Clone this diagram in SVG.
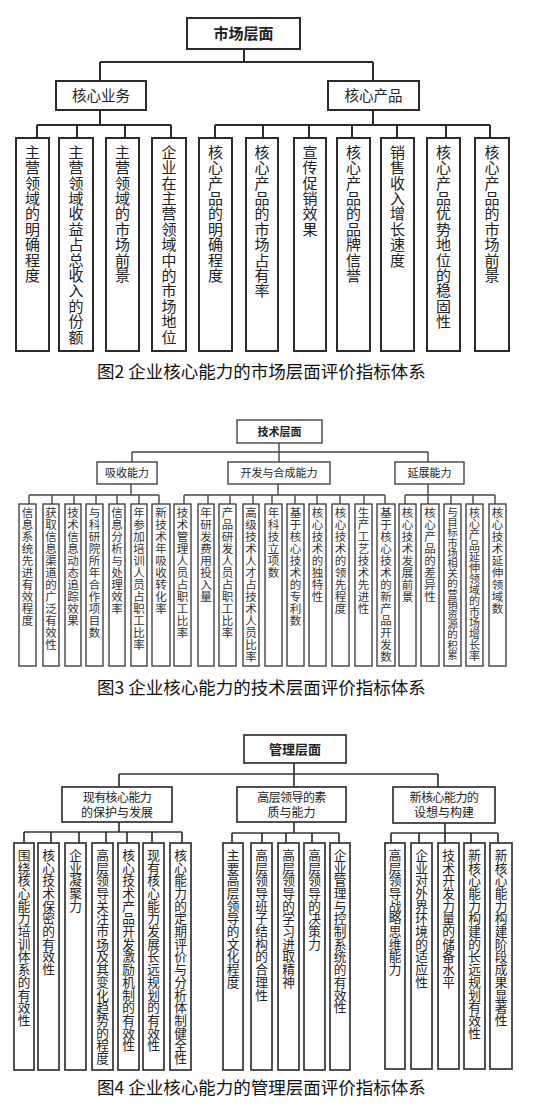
<svg xmlns="http://www.w3.org/2000/svg" width="537" height="1116" viewBox="0 0 537 1116">
<style>
text{font-family:"Noto Sans CJK SC","Noto Sans",sans-serif;fill:#222}
.b2{fill:#fff;stroke:#2a2a2a;stroke-width:2}
.b3{fill:#fff;stroke:#444;stroke-width:1.4}
.b4{fill:#fff;stroke:#333;stroke-width:1.7}
.c2{stroke:#2a2a2a;stroke-width:2;fill:none}
.c3{stroke:#444;stroke-width:1.4;fill:none}
.c4{stroke:#333;stroke-width:1.7;fill:none}
.h{text-anchor:middle}
.bold{font-weight:bold}
.v2{font-size:15px;text-anchor:middle}
.v3{font-size:11.5px;text-anchor:middle;fill:#333}
.v4{font-size:12.7px;text-anchor:middle}
.cap{font-size:17.5px;fill:#111}
</style>
<rect width="537" height="1116" fill="#fff"/>

<!-- ============ Figure 2 ============ -->
<g id="connectors-fig2">
<path class="c2" d="M244 49V62M100 62H373M100 62V81M373 62V81"/>
<path class="c2" d="M100 110V125M37 125H171M37 125V138M77 125V138M125 125V138M171 125V138"/>
<path class="c2" d="M373 110V125M215 125H490M215 125V138M263 125V138M309 125V138M352 125V138M397 125V138M446 125V138M490 125V138"/>
</g>
<g id="f2-root"><rect class="b2" x="187" y="18" width="113" height="31"/><text class="h bold" x="243.5" y="39" font-size="15">市场层面</text></g>
<g id="f2-core-business"><rect class="b2" x="56" y="81" width="90" height="29"/><text class="h" x="101" y="100.5" font-size="14.5">核心业务</text></g>
<g id="f2-core-product"><rect class="b2" x="328" y="81" width="91" height="29"/><text class="h" x="373.5" y="100.5" font-size="14.5">核心产品</text></g>
<g id="f2-l1"><rect class="b2" x="16" y="138" width="33" height="213"/><text class="v2" transform="translate(32.5 0)" x="0 0 0 0 0 0 0 0 0 0 0 0 0 0 0 0 0 0" y="157.7 173.1 188.5 203.9 219.3 234.7 250.1 265.5 280.9 296.3 311.7 327.1 342.5">主营领域的明确程度</text></g>
<g id="f2-l2"><rect class="b2" x="59" y="138" width="34" height="213"/><text class="v2" transform="translate(76 0)" x="0 0 0 0 0 0 0 0 0 0 0 0 0 0 0 0 0 0" y="157.7 173.1 188.5 203.9 219.3 234.7 250.1 265.5 280.9 296.3 311.7 327.1 342.5">主营领域收益占总收入的份额</text></g>
<g id="f2-l3"><rect class="b2" x="106" y="138" width="33" height="213"/><text class="v2" transform="translate(122.5 0)" x="0 0 0 0 0 0 0 0 0 0 0 0 0 0 0 0 0 0" y="157.7 173.1 188.5 203.9 219.3 234.7 250.1 265.5 280.9 296.3 311.7 327.1 342.5">主营领域的市场前景</text></g>
<g id="f2-l4"><rect class="b2" x="152" y="138" width="34" height="213"/><text class="v2" transform="translate(169 0)" x="0 0 0 0 0 0 0 0 0 0 0 0 0 0 0 0 0 0" y="157.7 173.1 188.5 203.9 219.3 234.7 250.1 265.5 280.9 296.3 311.7 327.1 342.5">企业在主营领域中的市场地位</text></g>
<g id="f2-l5"><rect class="b2" x="199" y="138" width="33" height="213"/><text class="v2" transform="translate(215.5 0)" x="0 0 0 0 0 0 0 0 0 0 0 0 0 0 0 0 0 0" y="157.7 173.1 188.5 203.9 219.3 234.7 250.1 265.5 280.9 296.3 311.7 327.1 342.5">核心产品的明确程度</text></g>
<g id="f2-l6"><rect class="b2" x="246" y="138" width="32" height="213"/><text class="v2" transform="translate(262 0)" x="0 0 0 0 0 0 0 0 0 0 0 0 0 0 0 0 0 0" y="157.7 173.1 188.5 203.9 219.3 234.7 250.1 265.5 280.9 296.3 311.7 327.1 342.5">核心产品的市场占有率</text></g>
<g id="f2-l7"><rect class="b2" x="294" y="138" width="32" height="213"/><text class="v2" transform="translate(310 0)" x="0 0 0 0 0 0 0 0 0 0 0 0 0 0 0 0 0 0" y="157.7 173.1 188.5 203.9 219.3 234.7 250.1 265.5 280.9 296.3 311.7 327.1 342.5">宣传促销效果</text></g>
<g id="f2-l8"><rect class="b2" x="337" y="138" width="33" height="213"/><text class="v2" transform="translate(353.5 0)" x="0 0 0 0 0 0 0 0 0 0 0 0 0 0 0 0 0 0" y="157.7 173.1 188.5 203.9 219.3 234.7 250.1 265.5 280.9 296.3 311.7 327.1 342.5">核心产品的品牌信誉</text></g>
<g id="f2-l9"><rect class="b2" x="381" y="138" width="33" height="213"/><text class="v2" transform="translate(397.5 0)" x="0 0 0 0 0 0 0 0 0 0 0 0 0 0 0 0 0 0" y="157.7 173.1 188.5 203.9 219.3 234.7 250.1 265.5 280.9 296.3 311.7 327.1 342.5">销售收入增长速度</text></g>
<g id="f2-l10"><rect class="b2" x="427" y="138" width="33" height="213"/><text class="v2" transform="translate(443.5 0)" x="0 0 0 0 0 0 0 0 0 0 0 0 0 0 0 0 0 0" y="157.7 173.1 188.5 203.9 219.3 234.7 250.1 265.5 280.9 296.3 311.7 327.1 342.5">核心产品优势地位的稳固性</text></g>
<g id="f2-l11"><rect class="b2" x="475" y="138" width="34" height="213"/><text class="v2" transform="translate(492 0)" x="0 0 0 0 0 0 0 0 0 0 0 0 0 0 0 0 0 0" y="157.7 173.1 188.5 203.9 219.3 234.7 250.1 265.5 280.9 296.3 311.7 327.1 342.5">核心产品的市场前景</text></g>
<text class="cap" x="97" y="378">图2 企业核心能力的市场层面评价指标体系</text>

<!-- ============ Figure 3 ============ -->
<g id="connectors-fig3">
<path class="c3" d="M279 443V452M132 452H428M132 452V462M279 452V462M428 452V462"/>
<path class="c3" d="M131 484V495M29 495H159M29 495V504M52 495V504M74 495V504M96 495V504M117 495V504M139 495V504M159 495V504"/>
<path class="c3" d="M278 484V495M184 495H385M184 495V504M208 495V504M230 495V504M253 495V504M272 495V504M295 495V504M317 495V504M340 495V504M364 495V504M385 495V504"/>
<path class="c3" d="M428 484V495M405 495H495M405 495V504M428 495V504M451 495V504M473 495V504M495 495V504"/>
</g>
<g id="f3-root"><rect class="b3" x="237" y="420" width="85" height="23"/><text class="h bold" x="279.5" y="435.5" font-size="11">技术层面</text></g>
<g id="f3-absorb"><rect class="b3" x="97" y="462" width="60" height="22"/><text class="h" x="127" y="477" font-size="11">吸收能力</text></g>
<g id="f3-develop"><rect class="b3" x="228" y="462" width="102" height="22"/><text class="h" x="279" y="477" font-size="11">开发与合成能力</text></g>
<g id="f3-extend"><rect class="b3" x="395" y="462" width="69" height="22"/><text class="h" x="429.5" y="477" font-size="11">延展能力</text></g>
<g id="f3-l1"><rect class="b3" x="19" y="504" width="17" height="162"/><text class="v3" transform="translate(27.5 0)" x="0 0 0 0 0 0 0 0 0 0 0 0 0 0 0 0 0 0" y="517.4 529.4 541.4 553.4 565.4 577.4 589.4 601.4 613.4 625.4 637.4 649.4 661.4">信息系统先进有效程度</text></g>
<g id="f3-l2"><rect class="b3" x="43" y="504" width="16" height="162"/><text class="v3" transform="translate(51 0)" x="0 0 0 0 0 0 0 0 0 0 0 0 0 0 0 0 0 0" y="517.4 529.4 541.4 553.4 565.4 577.4 589.4 601.4 613.4 625.4 637.4 649.4 661.4">获取信息渠道的广泛有效性</text></g>
<g id="f3-l3"><rect class="b3" x="65" y="504" width="16" height="162"/><text class="v3" transform="translate(73 0)" x="0 0 0 0 0 0 0 0 0 0 0 0 0 0 0 0 0 0" y="517.4 529.4 541.4 553.4 565.4 577.4 589.4 601.4 613.4 625.4 637.4 649.4 661.4">技术信息动态追踪效果</text></g>
<g id="f3-l4"><rect class="b3" x="86" y="504" width="17" height="162"/><text class="v3" transform="translate(94.5 0)" x="0 0 0 0 0 0 0 0 0 0 0 0 0 0 0 0 0 0" y="517.4 529.4 541.4 553.4 565.4 577.4 589.4 601.4 613.4 625.4 637.4 649.4 661.4">与科研院所年合作项目数</text></g>
<g id="f3-l5"><rect class="b3" x="109" y="504" width="16" height="162"/><text class="v3" transform="translate(117 0)" x="0 0 0 0 0 0 0 0 0 0 0 0 0 0 0 0 0 0" y="517.4 529.4 541.4 553.4 565.4 577.4 589.4 601.4 613.4 625.4 637.4 649.4 661.4">信息分析与处理效率</text></g>
<g id="f3-l6"><rect class="b3" x="131" y="504" width="16" height="162"/><text class="v3" transform="translate(139 0)" x="0 0 0 0 0 0 0 0 0 0 0 0 0 0 0 0 0 0" y="517.4 529.4 541.4 553.4 565.4 577.4 589.4 601.4 613.4 625.4 637.4 649.4 661.4">年参加培训人员占职工比率</text></g>
<g id="f3-l7"><rect class="b3" x="152" y="504" width="18" height="162"/><text class="v3" transform="translate(161 0)" x="0 0 0 0 0 0 0 0 0 0 0 0 0 0 0 0 0 0" y="517.4 529.4 541.4 553.4 565.4 577.4 589.4 601.4 613.4 625.4 637.4 649.4 661.4">新技术年吸收转化率</text></g>
<g id="f3-l8"><rect class="b3" x="174" y="504" width="17" height="162"/><text class="v3" transform="translate(182.5 0)" x="0 0 0 0 0 0 0 0 0 0 0 0 0 0 0 0 0 0" y="517.4 529.4 541.4 553.4 565.4 577.4 589.4 601.4 613.4 625.4 637.4 649.4 661.4">技术管理人员占职工比率</text></g>
<g id="f3-l9"><rect class="b3" x="198" y="504" width="16" height="162"/><text class="v3" transform="translate(206 0)" x="0 0 0 0 0 0 0 0 0 0 0 0 0 0 0 0 0 0" y="517.4 529.4 541.4 553.4 565.4 577.4 589.4 601.4 613.4 625.4 637.4 649.4 661.4">年研发费用投入量</text></g>
<g id="f3-l10"><rect class="b3" x="219" y="504" width="17" height="162"/><text class="v3" transform="translate(227.5 0)" x="0 0 0 0 0 0 0 0 0 0 0 0 0 0 0 0 0 0" y="517.4 529.4 541.4 553.4 565.4 577.4 589.4 601.4 613.4 625.4 637.4 649.4 661.4">产品研发人员占职工比率</text></g>
<g id="f3-l11"><rect class="b3" x="243" y="504" width="16" height="162"/><text class="v3" transform="translate(251 0)" x="0 0 0 0 0 0 0 0 0 0 0 0 0 0 0 0 0 0" y="517.4 529.4 541.4 553.4 565.4 577.4 589.4 601.4 613.4 625.4 637.4 649.4 661.4">高级技术人才占技术人员比率</text></g>
<g id="f3-l12"><rect class="b3" x="265" y="504" width="17" height="162"/><text class="v3" transform="translate(273.5 0)" x="0 0 0 0 0 0 0 0 0 0 0 0 0 0 0 0 0 0" y="517.4 529.4 541.4 553.4 565.4 577.4 589.4 601.4 613.4 625.4 637.4 649.4 661.4">年科技立项数</text></g>
<g id="f3-l13"><rect class="b3" x="287" y="504" width="17" height="162"/><text class="v3" transform="translate(295.5 0)" x="0 0 0 0 0 0 0 0 0 0 0 0 0 0 0 0 0 0" y="517.4 529.4 541.4 553.4 565.4 577.4 589.4 601.4 613.4 625.4 637.4 649.4 661.4">基于核心技术的专利数</text></g>
<g id="f3-l14"><rect class="b3" x="309" y="504" width="17" height="162"/><text class="v3" transform="translate(317.5 0)" x="0 0 0 0 0 0 0 0 0 0 0 0 0 0 0 0 0 0" y="517.4 529.4 541.4 553.4 565.4 577.4 589.4 601.4 613.4 625.4 637.4 649.4 661.4">核心技术的独特性</text></g>
<g id="f3-l15"><rect class="b3" x="332" y="504" width="17" height="162"/><text class="v3" transform="translate(340.5 0)" x="0 0 0 0 0 0 0 0 0 0 0 0 0 0 0 0 0 0" y="517.4 529.4 541.4 553.4 565.4 577.4 589.4 601.4 613.4 625.4 637.4 649.4 661.4">核心技术的领先程度</text></g>
<g id="f3-l16"><rect class="b3" x="355" y="504" width="17" height="162"/><text class="v3" transform="translate(363.5 0)" x="0 0 0 0 0 0 0 0 0 0 0 0 0 0 0 0 0 0" y="517.4 529.4 541.4 553.4 565.4 577.4 589.4 601.4 613.4 625.4 637.4 649.4 661.4">生产工艺技术先进性</text></g>
<g id="f3-l17"><rect class="b3" x="377" y="504" width="18" height="162"/><text class="v3" transform="translate(386 0)" x="0 0 0 0 0 0 0 0 0 0 0 0 0 0 0 0 0 0" y="517.4 529.4 541.4 553.4 565.4 577.4 589.4 601.4 613.4 625.4 637.4 649.4 661.4">基于核心技术的新产品开发数</text></g>
<g id="f3-l18"><rect class="b3" x="399" y="504" width="17" height="162"/><text class="v3" transform="translate(407.5 0)" x="0 0 0 0 0 0 0 0 0 0 0 0 0 0 0 0 0 0" y="517.4 529.4 541.4 553.4 565.4 577.4 589.4 601.4 613.4 625.4 637.4 649.4 661.4">核心技术发展前景</text></g>
<g id="f3-l19"><rect class="b3" x="421" y="504" width="18" height="162"/><text class="v3" transform="translate(430 0)" x="0 0 0 0 0 0 0 0 0 0 0 0 0 0 0 0 0 0" y="517.4 529.4 541.4 553.4 565.4 577.4 589.4 601.4 613.4 625.4 637.4 649.4 661.4">核心产品的差异性</text></g>
<g id="f3-l20"><rect class="b3" x="444" y="504" width="17" height="162"/><text class="v3" style="font-size:10.5px" transform="translate(452.5 0)" x="0 0 0 0 0 0 0 0 0 0 0 0 0 0 0 0 0 0" y="516 526.2 536.4 546.6 556.8 567 577.2 587.4 597.6 607.8 618 628.2 638.4 648.6 658.8">与目标市场相关的营销资源的积累</text></g>
<g id="f3-l21"><rect class="b3" x="466" y="504" width="17" height="162"/><text class="v3" style="font-size:11px" transform="translate(474.5 0)" x="0 0 0 0 0 0 0 0 0 0 0 0 0 0 0 0 0 0" y="517.2 528.2 539.2 550.2 561.2 572.2 583.2 594.2 605.2 616.2 627.2 638.2 649.2 660.2">核心产品延伸领域的市场增长率</text></g>
<g id="f3-l22"><rect class="b3" x="489" y="504" width="17" height="162"/><text class="v3" transform="translate(497.5 0)" x="0 0 0 0 0 0 0 0 0 0 0 0 0 0 0 0 0 0" y="517.4 529.4 541.4 553.4 565.4 577.4 589.4 601.4 613.4 625.4 637.4 649.4 661.4">核心技术延伸领域数</text></g>
<text class="cap" x="97" y="694">图3 企业核心能力的技术层面评价指标体系</text>

<!-- ============ Figure 4 ============ -->
<g id="connectors-fig4">
<path class="c4" d="M294 763V774M119 774H438M119 774V787M294 774V787M438 774V787"/>
<path class="c4" d="M119 822V832M24 832H182M24 832V843M51 832V843M79 832V843M106 832V843M127 832V843M152 832V843M182 832V843"/>
<path class="c4" d="M294 822V833M232 833H339M232 833V843M262 833V843M286 833V843M312 833V843M339 833V843"/>
<path class="c4" d="M445 823V833M391 833H498M391 833V843M419 833V843M445 833V843M471 833V843M498 833V843"/>
</g>
<g id="f4-root"><rect class="b4" x="244" y="735" width="102" height="28"/><text class="h bold" x="295" y="753.5" font-size="13">管理层面</text></g>
<g id="f4-existing"><rect class="b4" x="62" y="787" width="110" height="35"/><text class="h" font-size="12"><tspan x="117" y="801.5" letter-spacing="-0.6">现有核心能力</tspan><tspan x="117" y="816.5">的保护与发展</tspan></text></g>
<g id="f4-leader"><rect class="b4" x="237" y="787" width="109" height="35"/><text class="h" font-size="12"><tspan x="291.5" y="801.5" letter-spacing="-0.6">高层领导的素</tspan><tspan x="291.5" y="816.5">质与能力</tspan></text></g>
<g id="f4-new"><rect class="b4" x="393" y="787" width="102" height="36"/><text class="h" font-size="12"><tspan x="444" y="801.5" letter-spacing="-0.6">新核心能力的</tspan><tspan x="444" y="816.5">设想与构建</tspan></text></g>
<g id="f4-l1"><rect class="b4" x="14" y="843" width="20" height="227"/><text class="v4" transform="translate(24 0)" x="0 0 0 0 0 0 0 0 0 0 0 0 0 0 0 0 0 0" y="859.8 872.5 885.2 897.9 910.6 923.3 936 948.7 961.4 974.1 986.8 999.5 1012.2 1024.9 1037.6 1050.3 1063">围绕核心能力培训体系的有效性</text></g>
<g id="f4-l2"><rect class="b4" x="38" y="843" width="21" height="227"/><text class="v4" transform="translate(48.5 0)" x="0 0 0 0 0 0 0 0 0 0 0 0 0 0 0 0 0 0" y="859.8 872.5 885.2 897.9 910.6 923.3 936 948.7 961.4 974.1 986.8 999.5 1012.2 1024.9 1037.6 1050.3 1063">核心技术保密的有效性</text></g>
<g id="f4-l3"><rect class="b4" x="65" y="843" width="21" height="227"/><text class="v4" transform="translate(75.5 0)" x="0 0 0 0 0 0 0 0 0 0 0 0 0 0 0 0 0 0" y="859.8 872.5 885.2 897.9 910.6 923.3 936 948.7 961.4 974.1 986.8 999.5 1012.2 1024.9 1037.6 1050.3 1063">企业凝聚力</text></g>
<g id="f4-l4"><rect class="b4" x="92" y="843" width="21" height="227"/><text class="v4" transform="translate(102.5 0)" x="0 0 0 0 0 0 0 0 0 0 0 0 0 0 0 0 0 0" y="859.8 872.5 885.2 897.9 910.6 923.3 936 948.7 961.4 974.1 986.8 999.5 1012.2 1024.9 1037.6 1050.3 1063">高层领导关注市场及其变化趋势的程度</text></g>
<g id="f4-l5"><rect class="b4" x="118" y="843" width="21" height="227"/><text class="v4" transform="translate(128.5 0)" x="0 0 0 0 0 0 0 0 0 0 0 0 0 0 0 0 0 0" y="859.8 872.5 885.2 897.9 910.6 923.3 936 948.7 961.4 974.1 986.8 999.5 1012.2 1024.9 1037.6 1050.3 1063">核心技术产品开发激励机制的有效性</text></g>
<g id="f4-l6"><rect class="b4" x="143" y="843" width="21" height="227"/><text class="v4" transform="translate(153.5 0)" x="0 0 0 0 0 0 0 0 0 0 0 0 0 0 0 0 0 0" y="859.8 872.5 885.2 897.9 910.6 923.3 936 948.7 961.4 974.1 986.8 999.5 1012.2 1024.9 1037.6 1050.3 1063">现有核心能力发展长远规划的有效性</text></g>
<g id="f4-l7"><rect class="b4" x="170" y="843" width="21" height="227"/><text class="v4" transform="translate(180.5 0)" x="0 0 0 0 0 0 0 0 0 0 0 0 0 0 0 0 0 0" y="859.8 872.5 885.2 897.9 910.6 923.3 936 948.7 961.4 974.1 986.8 999.5 1012.2 1024.9 1037.6 1050.3 1063">核心能力的定期评价与分析体制健全性</text></g>
<g id="f4-l8"><rect class="b4" x="223" y="843" width="20" height="227"/><text class="v4" transform="translate(233 0)" x="0 0 0 0 0 0 0 0 0 0 0 0 0 0 0 0 0 0" y="859.8 872.5 885.2 897.9 910.6 923.3 936 948.7 961.4 974.1 986.8 999.5 1012.2 1024.9 1037.6 1050.3 1063">主要高层领导的文化程度</text></g>
<g id="f4-l9"><rect class="b4" x="251" y="843" width="21" height="227"/><text class="v4" transform="translate(261.5 0)" x="0 0 0 0 0 0 0 0 0 0 0 0 0 0 0 0 0 0" y="859.8 872.5 885.2 897.9 910.6 923.3 936 948.7 961.4 974.1 986.8 999.5 1012.2 1024.9 1037.6 1050.3 1063">高层领导班子结构的合理性</text></g>
<g id="f4-l10"><rect class="b4" x="278" y="843" width="21" height="227"/><text class="v4" transform="translate(288.5 0)" x="0 0 0 0 0 0 0 0 0 0 0 0 0 0 0 0 0 0" y="859.8 872.5 885.2 897.9 910.6 923.3 936 948.7 961.4 974.1 986.8 999.5 1012.2 1024.9 1037.6 1050.3 1063">高层领导的学习进取精神</text></g>
<g id="f4-l11"><rect class="b4" x="304" y="843" width="21" height="227"/><text class="v4" transform="translate(314.5 0)" x="0 0 0 0 0 0 0 0 0 0 0 0 0 0 0 0 0 0" y="859.8 872.5 885.2 897.9 910.6 923.3 936 948.7 961.4 974.1 986.8 999.5 1012.2 1024.9 1037.6 1050.3 1063">高层领导的决策力</text></g>
<g id="f4-l12"><rect class="b4" x="330" y="843" width="20" height="227"/><text class="v4" transform="translate(340 0)" x="0 0 0 0 0 0 0 0 0 0 0 0 0 0 0 0 0 0" y="859.8 872.5 885.2 897.9 910.6 923.3 936 948.7 961.4 974.1 986.8 999.5 1012.2 1024.9 1037.6 1050.3 1063">企业管理与控制系统的有效性</text></g>
<g id="f4-l13"><rect class="b4" x="385" y="843" width="20" height="226"/><text class="v4" transform="translate(395 0)" x="0 0 0 0 0 0 0 0 0 0 0 0 0 0 0 0 0 0" y="859.8 872.5 885.2 897.9 910.6 923.3 936 948.7 961.4 974.1 986.8 999.5 1012.2 1024.9 1037.6 1050.3 1063">高层领导战略思维能力</text></g>
<g id="f4-l14"><rect class="b4" x="411" y="843" width="21" height="226"/><text class="v4" transform="translate(421.5 0)" x="0 0 0 0 0 0 0 0 0 0 0 0 0 0 0 0 0 0" y="859.8 872.5 885.2 897.9 910.6 923.3 936 948.7 961.4 974.1 986.8 999.5 1012.2 1024.9 1037.6 1050.3 1063">企业对外界环境的适应性</text></g>
<g id="f4-l15"><rect class="b4" x="438" y="843" width="21" height="226"/><text class="v4" transform="translate(448.5 0)" x="0 0 0 0 0 0 0 0 0 0 0 0 0 0 0 0 0 0" y="859.8 872.5 885.2 897.9 910.6 923.3 936 948.7 961.4 974.1 986.8 999.5 1012.2 1024.9 1037.6 1050.3 1063">技术开发力量的储备水平</text></g>
<g id="f4-l16"><rect class="b4" x="464" y="843" width="21" height="226"/><text class="v4" transform="translate(474.5 0)" x="0 0 0 0 0 0 0 0 0 0 0 0 0 0 0 0 0 0" y="859.8 872.5 885.2 897.9 910.6 923.3 936 948.7 961.4 974.1 986.8 999.5 1012.2 1024.9 1037.6 1050.3 1063">新核心能力构建的长远规划有效性</text></g>
<g id="f4-l17"><rect class="b4" x="490" y="843" width="22" height="226"/><text class="v4" transform="translate(501 0)" x="0 0 0 0 0 0 0 0 0 0 0 0 0 0 0 0 0 0" y="859.8 872.5 885.2 897.9 910.6 923.3 936 948.7 961.4 974.1 986.8 999.5 1012.2 1024.9 1037.6 1050.3 1063">新核心能力构建阶段成果显著性</text></g>
<text class="cap" x="97" y="1094">图4 企业核心能力的管理层面评价指标体系</text>
</svg>
